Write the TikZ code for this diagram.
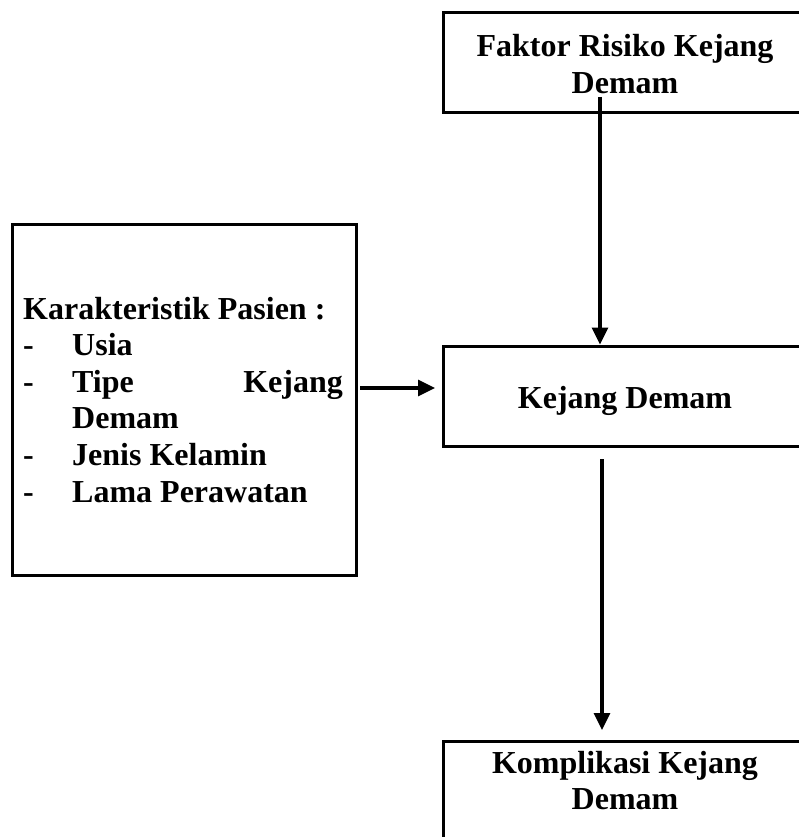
\documentclass[tikz,border=0pt]{standalone}
\usepackage{fontspec}
\setmainfont{Liberation Serif}
\usetikzlibrary{arrows.meta}
\begin{document}
\begin{tikzpicture}[x=1pt,y=-1pt,
  box/.style={draw=black,line width=3pt,rectangle,inner sep=0pt},
  lbl/.style={font=\fontsize{32}{36}\selectfont\bfseries,inner sep=0pt},
  arr/.style={line width=3.2pt,-{Triangle[length=17pt,width=16pt]}}]
\useasboundingbox (0,0) rectangle (798,837);
% boxes
\node[box,minimum width=364pt,minimum height=100pt] (top) at (625,63) {};
\node[box,minimum width=364pt,minimum height=100pt] (mid) at (625,396) {};
\node[box,minimum width=364pt,minimum height=110pt] (bot) at (625,796) {};
\node[box,minimum width=344pt,minimum height=351pt] (left) at (184,399.5) {};
% top text
\node[lbl,anchor=base] (t1) at (625,57) {Faktor Risiko Kejang};
\node[lbl,anchor=base] (t2) at (625,94) {Demam};
% middle text
\node[lbl,anchor=base] (m1) at (625,408) {Kejang Demam};
% bottom text
\node[lbl,anchor=base] (b1) at (625,773) {Komplikasi Kejang};
\node[lbl,anchor=base] (b2) at (625,809) {Demam};
% left text
\node[lbl,anchor=base west] (l0) at (23,319) {Karakteristik Pasien :};
\node[lbl,anchor=base west] (d1) at (23,355) {-};
\node[lbl,anchor=base west] (l1) at (72,355) {Usia};
\node[lbl,anchor=base west] (d2) at (23,392) {-};
\node[lbl,anchor=base west] (l2a) at (72,392) {Tipe};
\node[lbl,anchor=base east] (l2b) at (343,392) {Kejang};
\node[lbl,anchor=base west] (l3) at (72,428) {Demam};
\node[lbl,anchor=base west] (d4) at (23,465) {-};
\node[lbl,anchor=base west] (l4) at (72,465) {Jenis Kelamin};
\node[lbl,anchor=base west] (d5) at (23,502) {-};
\node[lbl,anchor=base west] (l5) at (72,502) {Lama Perawatan};
% connectors
\coordinate (s1) at (600,97);
\draw[arr] (s1) -- (s1 |- mid.north);
\coordinate (s2) at (602,459);
\coordinate (e2) at (602,730);
\draw[arr] (s2) -- (e2);
\coordinate (s3) at (360,388);
\coordinate (e3) at (435,388);
\draw[arr] (s3) -- (e3);
\end{tikzpicture}
\end{document}
